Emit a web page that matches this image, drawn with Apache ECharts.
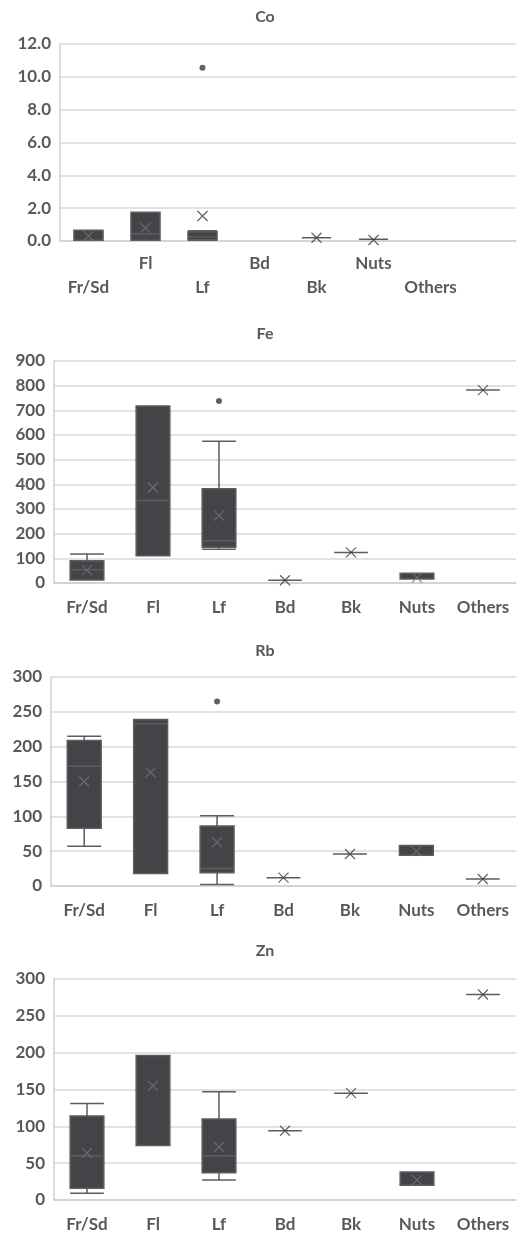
<!DOCTYPE html>
<html>
<head>
<meta charset="utf-8">
<style>html,body{margin:0;padding:0;background:#fff}#c{width:530px;height:1237px}</style>
<script src="https://cdn.jsdelivr.net/npm/echarts@6/dist/echarts.min.js"></script>
</head>
<body>
<div id="c"></div>
<script>
// ---- data ----
const categories = ['Fr/Sd', 'Fl', 'Lf', 'Bd', 'Bk', 'Nuts', 'Others'];
const coCategories = ['Fr/Sd', 'Fl', 'Lf', 'Bd', 'Bk', 'Nuts', 'Others', ''];

// box values: [min, Q1, median, Q3, max] (null = no data)
const coBoxes = [[0.05, 0.05, 0.05, 0.65, 0.65], [0.05, 0.05, 0.43, 1.75, 1.75], [0.05, 0.07, 0.25, 0.57, 0.63], null, [0.2, 0.2, 0.2, 0.2, 0.2], [0.1, 0.1, 0.1, 0.1, 0.1], null, null];
const coMeans = [0.3, 0.8, 1.52, null, 0.2, 0.06, null, null];
const coOutliers = [[2, 10.55]];

const feBoxes = [[12, 12, 54, 90, 118], [110, 110, 334, 718, 718], [137, 145, 171, 382, 575], [11, 11, 11, 11, 11], [124, 124, 124, 124, 124], [16, 16, 16, 40, 40], [782, 782, 782, 782, 782]];
const feMeans = [52, 387, 273, 11, 124, 22, 782];
const feOutliers = [[2, 738]];

const rbBoxes = [[57, 83, 172, 209, 215], [18, 18, 233, 239, 239], [2, 19, 25, 86, 101], [12, 12, 12, 12, 12], [46, 46, 46, 46, 46], [44, 44, 44, 58, 58], [10, 10, 10, 10, 10]];
const rbMeans = [150, 163, 63, 12, 46, 50, 10];
const rbOutliers = [[2, 265]];

const znBoxes = [[9, 16, 60, 114, 131], [74, 74, 196, 196, 196], [27, 37, 60, 110, 147], [94, 94, 94, 94, 94], [145, 145, 145, 145, 145], [20, 20, 20, 38, 38], [279, 279, 279, 279, 279]];
const znMeans = [64, 155, 72, 94, 145, 27, 279];
const znOutliers = [];

const panelTitles = ['Co', 'Fe', 'Rb', 'Zn'];
const yMax = [12, 900, 300, 300];
const yStep = [2, 100, 50, 50];

// ---- layout / style ----
const FONT = 'Lato';
const TXT = '#595959';
const grids = [
  { left: 60, top: 44, width: 456, height: 197 },
  { left: 54, top: 361, width: 462, height: 222 },
  { left: 51, top: 677, width: 465, height: 209 },
  { left: 54, top: 979, width: 462, height: 222 }
];
const titleTops = [4, 321, 638, 938];
const panels = [
  { cats: coCategories, boxes: coBoxes, means: coMeans, outliers: coOutliers, stagger: true },
  { cats: categories, boxes: feBoxes, means: feMeans, outliers: feOutliers },
  { cats: categories, boxes: rbBoxes, means: rbMeans, outliers: rbOutliers },
  { cats: categories, boxes: znBoxes, means: znMeans, outliers: znOutliers }
];

const option = {
  animation: false,
  backgroundColor: '#fff',
  title: panelTitles.map((t, i) => ({
    text: t, left: 'center', top: titleTops[i],
    textStyle: { fontFamily: FONT, fontSize: 16, fontWeight: 'bold', color: TXT }
  })),
  grid: grids,
  xAxis: panels.map((p, i) => ({
    type: 'category', gridIndex: i, data: p.cats,
    axisLine: { show: true, lineStyle: { color: '#d0d0d0', width: 1.5 } },
    axisTick: { show: false },
    splitLine: { show: false },
    axisLabel: {
      interval: 0, fontFamily: FONT, fontSize: 17, fontWeight: 'bold', color: TXT,
      margin: p.stagger ? 11 : 13, lineHeight: 24,
      formatter: p.stagger ? ((v, idx) => (idx % 2 === 0 ? '\n' + v : v)) : undefined
    }
  })),
  yAxis: panels.map((p, i) => ({
    type: 'value', gridIndex: i, min: 0, max: yMax[i], interval: yStep[i],
    axisLine: { show: true, lineStyle: { color: '#d0d0d0', width: 1.5 } },
    axisTick: { show: false },
    splitLine: { lineStyle: { color: '#d9d9d9', width: 1.5 } },
    axisLabel: {
      fontFamily: FONT, fontSize: 17, fontWeight: 'bold', color: TXT, margin: 9,
      formatter: i === 0 ? (v => v.toFixed(1)) : (v => String(v))
    }
  })),
  series: []
};

panels.forEach((p, i) => {
  option.series.push({
    type: 'boxplot', xAxisIndex: i, yAxisIndex: i,
    boxWidth: ['51%', '51%'],
    itemStyle: { color: '#444448', borderColor: '#5c5c5f', borderWidth: 1.5 },
    data: p.boxes.map(b => b ? { value: b } : { value: [0, 0, 0, 0, 0], itemStyle: { opacity: 0 } }),
    z: 2
  });
  option.series.push({
    type: 'scatter', xAxisIndex: i, yAxisIndex: i,
    symbol: 'path://M0,0L10,10M10,0L0,10', symbolSize: 10,
    data: p.means.map((m, k) => {
      if (m === null) return null;
      const b = p.boxes[k];
      const inside = b && m > b[1] && m < b[3];
      return {
        value: [k, m],
        itemStyle: { color: 'transparent', borderColor: inside ? '#767679' : '#3c3c3c', borderWidth: 1.2 }
      };
    }).filter(d => d),
    z: 5
  });
  option.series.push({
    type: 'scatter', xAxisIndex: i, yAxisIndex: i,
    symbol: 'circle', symbolSize: 6,
    itemStyle: { color: '#3a3a3a' },
    data: p.outliers,
    z: 5
  });
});

const chart = echarts.init(document.getElementById('c'), null, { renderer: 'canvas' });
chart.setOption(option);
</script>
</body>
</html>
